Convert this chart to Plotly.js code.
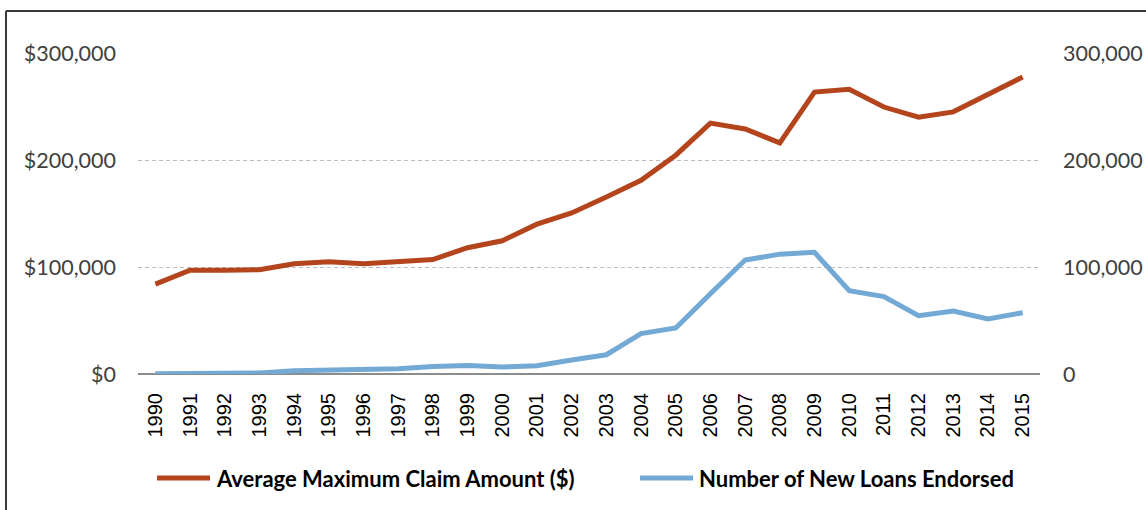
<!DOCTYPE html>
<html>
<head>
<meta charset="utf-8">
<script src="https://cdn.plot.ly/plotly-3.0.1.min.js"></script>
<style>html,body{margin:0;padding:0;background:#fff;}#chart{width:1146px;height:510px;}</style>
</head>
<body>
<div id="chart"></div>
<script>
const years = ["1990","1991","1992","1993","1994","1995","1996","1997","1998","1999","2000","2001","2002","2003","2004","2005","2006","2007","2008","2009","2010","2011","2012","2013","2014","2015"];
const avgMaxClaim = [84000,97000,97000,97500,103000,105000,103000,105500,107000,118000,124500,140000,150500,165500,181000,204500,234500,229000,216000,263500,266000,249500,240000,245000,261500,277500];
const newLoans = [200,400,1000,1000,3000,3500,3700,5000,7000,7900,6600,7800,13000,18000,37800,43000,75000,106500,112000,113700,77900,72300,54500,58900,51400,57300];
const seriesNames = ["Average Maximum Claim Amount ($)", "Number of New Loans Endorsed"];
const seriesColors = ["#B4441C", "#73A9D5"];
const leftTicks = [0,100000,200000,300000];
const leftTickText = ["$0","$100,000","$200,000","$300,000"];
const rightTickText = ["0","100,000","200,000","300,000"];

const tickFont = {family: "Lato, 'Open Sans', sans-serif", size: 21.5, color: "#404040"};
const legendFont = {family: "Lato, 'Open Sans', sans-serif", size: 22, color: "#000", weight: "bold"};

const traces = [
  {x: years, y: avgMaxClaim, type: "scatter", mode: "lines", name: seriesNames[0],
   line: {color: seriesColors[0], width: 5}, yaxis: "y"},
  {x: years, y: newLoans, type: "scatter", mode: "lines", name: seriesNames[1],
   line: {color: seriesColors[1], width: 5}, yaxis: "y2"}
];

// Legend drawn manually (paper coordinates)
const legY = -0.324;
const legendItems = [
  {x0: 0.02106, x1: 0.07982, tx: 0.08537},
  {x0: 0.55654, x1: 0.61530, tx: 0.62084}
];

const shapes = [
  {type: "line", xref: "paper", yref: "paper", x0: -0.14634, x1: 1.2, y0: 1.13084, y1: 1.13084,
   line: {color: "#3a3a3a", width: 2}},
  {type: "line", xref: "paper", yref: "paper", x0: -0.14634, x1: -0.14634, y0: 1.13084, y1: -0.5,
   line: {color: "#3a3a3a", width: 2}}
];
const annotations = [];
legendItems.forEach((it, i) => {
  shapes.push({type: "line", xref: "paper", yref: "paper", x0: it.x0, x1: it.x1, y0: legY, y1: legY,
    line: {color: seriesColors[i], width: 5}});
  annotations.push({xref: "paper", yref: "paper", x: it.tx, y: legY, xanchor: "left", yanchor: "middle",
    text: seriesNames[i], showarrow: false, font: legendFont, borderpad: 0});
});

const layout = {
  width: 1146, height: 510,
  margin: {l: 138, r: 106, t: 53, b: 136},
  paper_bgcolor: "#fff", plot_bgcolor: "#fff",
  showlegend: false,
  xaxis: {type: "category", range: [-0.5, 25.5], tickangle: -90, showgrid: false, zeroline: false,
    showline: false, ticks: "", ticklabelstandoff: 14, automargin: false,
    tickfont: {family: "'Liberation Sans', Arial, sans-serif", size: 20, color: "#000"}},
  yaxis: {range: [0, 300000], tickvals: leftTicks, ticktext: leftTickText, showgrid: true, automargin: false,
    gridcolor: "#bdbdbd", griddash: "4px,3px", gridwidth: 1, zeroline: true, zerolinecolor: "#8c8c8c", zerolinewidth: 1.5,
    showline: false, ticks: "", ticklabelstandoff: 21, tickfont: tickFont},
  yaxis2: {range: [0, 300000], tickvals: leftTicks, ticktext: rightTickText, overlaying: "y", side: "right",
    showgrid: false, zeroline: false, showline: false, ticks: "", ticklabelstandoff: 22, automargin: false, tickfont: tickFont},
  shapes: shapes,
  annotations: annotations
};

Plotly.newPlot("chart", traces, layout, {displayModeBar: false, staticPlot: true});
</script>
</body>
</html>
